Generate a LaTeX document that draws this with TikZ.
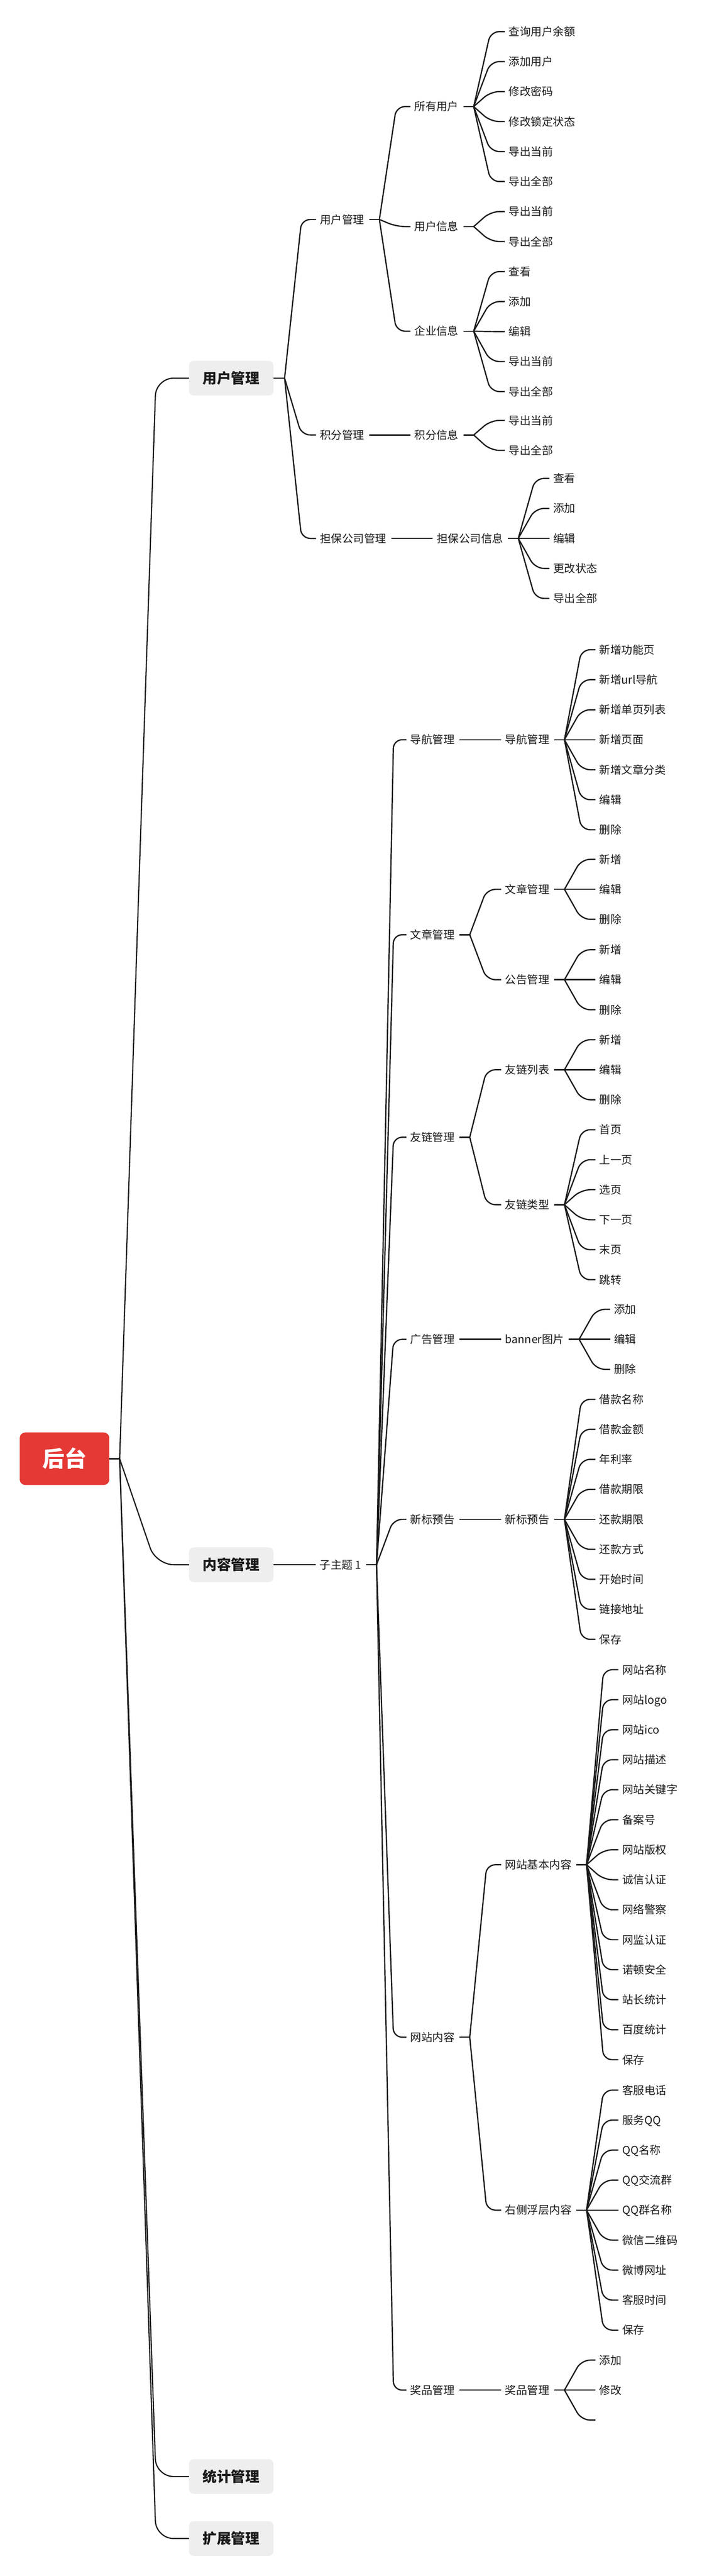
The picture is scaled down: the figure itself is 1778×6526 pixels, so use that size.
\documentclass[tikz,border=0pt]{standalone}
\usepackage{fontspec}
\setmainfont{Noto Sans CJK SC}
\usetikzlibrary{calc}
\definecolor{ln}{HTML}{1A1A1A}
\definecolor{rootred}{HTML}{E53935}
\definecolor{lonefill}{HTML}{EEEEEE}
\definecolor{txt}{HTML}{1A1A1A}
\tikzset{
  txtnode/.style={anchor=west, inner sep=0pt, text height=24.6pt, text depth=3.4pt,
    font=\fontsize{28}{30}\selectfont, text=txt},
  lonebox/.style={fill=lonefill, rounded corners=12pt, minimum width=214pt, minimum height=88pt,
    inner sep=0pt, text height=31.7pt, text depth=4.3pt, font=\fontsize{36}{40}\selectfont\bfseries, text=txt},
  rootbox/.style={fill=rootred, rounded corners=14pt, minimum width=227pt, minimum height=133pt,
    inner sep=0pt, text height=49.3pt, text depth=6.7pt, font=\fontsize{56}{60}\selectfont\bfseries, text=white},
  conn/.style={draw=ln, line width=3.2pt, rounded corners=22pt},
  connone/.style={draw=ln, line width=3pt, rounded corners=45pt},
}
\newcommand\mkfork[1]{\coordinate (#1-F) at ([xshift=38pt]#1.east);
  \draw[conn] ([xshift=12pt]#1.east) -- (#1-F);}
\newcommand\mkboxfork[1]{\coordinate (#1-F) at ([xshift=28pt]#1.east);
  \draw[conn] (#1.east) -- (#1-F);}
\newcommand\link[2]{\draw[conn] (#1-F) -- ($(#1-F |- #2.west)+(43,0)$) -- ([xshift=-10pt]#2.west);}
\newcommand\leafset[4]{\mkfork{#1}%
  \foreach \lbl [count=\i from 0] in {#4} {%
    \node[txtnode] (#1-\i) at (#2,{#3+76*\i}) {\lbl};
    \link{#1}{#1-\i}}}
\begin{document}
\begin{tikzpicture}[x=1pt,y=-1pt]
\useasboundingbox[fill=white] (0,0) rectangle (1778,6526);
% root and level 1
\node[rootbox] (root) at (163.5,3695.5) {后台};
\node[lonebox] (um) at (586,958) {用户管理};
\node[lonebox] (cm) at (586,3964) {内容管理};
\node[lonebox] (tm) at (586,6274) {统计管理};
\node[lonebox] (em) at (586,6431) {扩展管理};
\coordinate (root-F) at ([xshift=26pt]root.east);
\draw[connone] (root.east) -- (root-F);
\foreach \n in {um,cm,tm,em}
  \draw[connone] (root-F) -- ($(root-F |- \n.west)+(92,0)$) -- (\n.west);
% ===== 用户管理 =====
\node[txtnode] (u1) at (811,556) {用户管理};
\node[txtnode] (u2) at (811,1102) {积分管理};
\node[txtnode] (u3) at (811,1364) {担保公司管理};
\mkboxfork{um}
\link{um}{u1}\link{um}{u2}\link{um}{u3}
\node[txtnode] (u11) at (1050,270) {所有用户};
\node[txtnode] (u12) at (1050,574) {用户信息};
\node[txtnode] (u13) at (1050,839) {企业信息};
\mkfork{u1}\link{u1}{u11}\link{u1}{u12}\link{u1}{u13}
\node[txtnode] (u21) at (1050,1102) {积分信息};
\mkfork{u2}\link{u2}{u21}
\node[txtnode] (u31) at (1107,1364) {担保公司信息};
\mkfork{u3}\link{u3}{u31}
\leafset{u11}{1289}{80}{查询用户余额,添加用户,修改密码,修改锁定状态,导出当前,导出全部}
\leafset{u12}{1289}{536}{导出当前,导出全部}
\leafset{u13}{1289}{688}{查看,添加,编辑,导出当前,导出全部}
\leafset{u21}{1289}{1065}{导出当前,导出全部}
\leafset{u31}{1402}{1212}{查看,添加,编辑,更改状态,导出全部}
% ===== 内容管理 =====
\node[txtnode] (c1) at (810,3964) {子主题 1};
\mkboxfork{cm}\link{cm}{c1}
\node[txtnode] (n1) at (1040,1874) {导航管理};
\node[txtnode] (n2) at (1040,2368) {文章管理};
\node[txtnode] (n3) at (1040,2881) {友链管理};
\node[txtnode] (n4) at (1040,3393) {广告管理};
\node[txtnode] (n5) at (1040,3849) {新标预告};
\node[txtnode] (n6) at (1040,5161) {网站内容};
\node[txtnode] (n7) at (1040,6055) {奖品管理};
\mkfork{c1}
\foreach \n in {n1,n2,n3,n4,n5,n6,n7} {\link{c1}{\n}}
\node[txtnode] (n11) at (1280,1874) {导航管理};
\mkfork{n1}\link{n1}{n11}
\node[txtnode] (n21) at (1280,2253) {文章管理};
\node[txtnode] (n22) at (1280,2482) {公告管理};
\mkfork{n2}\link{n2}{n21}\link{n2}{n22}
\node[txtnode] (n31) at (1280,2710) {友链列表};
\node[txtnode] (n32) at (1280,3052) {友链类型};
\mkfork{n3}\link{n3}{n31}\link{n3}{n32}
\node[txtnode] (n41) at (1280,3393) {banner图片};
\mkfork{n4}\link{n4}{n41}
\node[txtnode] (n51) at (1280,3849) {新标预告};
\mkfork{n5}\link{n5}{n51}
\node[txtnode] (n61) at (1280,4724) {网站基本内容};
\node[txtnode] (n62) at (1280,5599) {右侧浮层内容};
\mkfork{n6}\link{n6}{n61}\link{n6}{n62}
\node[txtnode] (n71) at (1280,6055) {奖品管理};
\mkfork{n7}\link{n7}{n71}
\leafset{n11}{1519}{1646}{新增功能页,新增url导航,新增单页列表,新增页面,新增文章分类,编辑,删除}
\leafset{n21}{1519}{2177}{新增,编辑,删除}
\leafset{n22}{1519}{2406}{新增,编辑,删除}
\leafset{n31}{1519}{2634}{新增,编辑,删除}
\leafset{n32}{1519}{2862}{首页,上一页,选页,下一页,末页,跳转}
\leafset{n41}{1556}{3317}{添加,编辑,删除}
\leafset{n51}{1519}{3545}{借款名称,借款金额,年利率,借款期限,还款期限,还款方式,开始时间,链接地址,保存}
\leafset{n61}{1577}{4230}{网站名称,网站logo,网站ico,网站描述,网站关键字,备案号,网站版权,诚信认证,网络警察,网监认证,诺顿安全,站长统计,百度统计,保存}
\leafset{n62}{1577}{5295}{客服电话,服务QQ,QQ名称,QQ交流群,QQ群名称,微信二维码,微博网址,客服时间,保存}
\leafset{n71}{1519}{5979}{添加,修改,{}}
\end{tikzpicture}
\end{document}
